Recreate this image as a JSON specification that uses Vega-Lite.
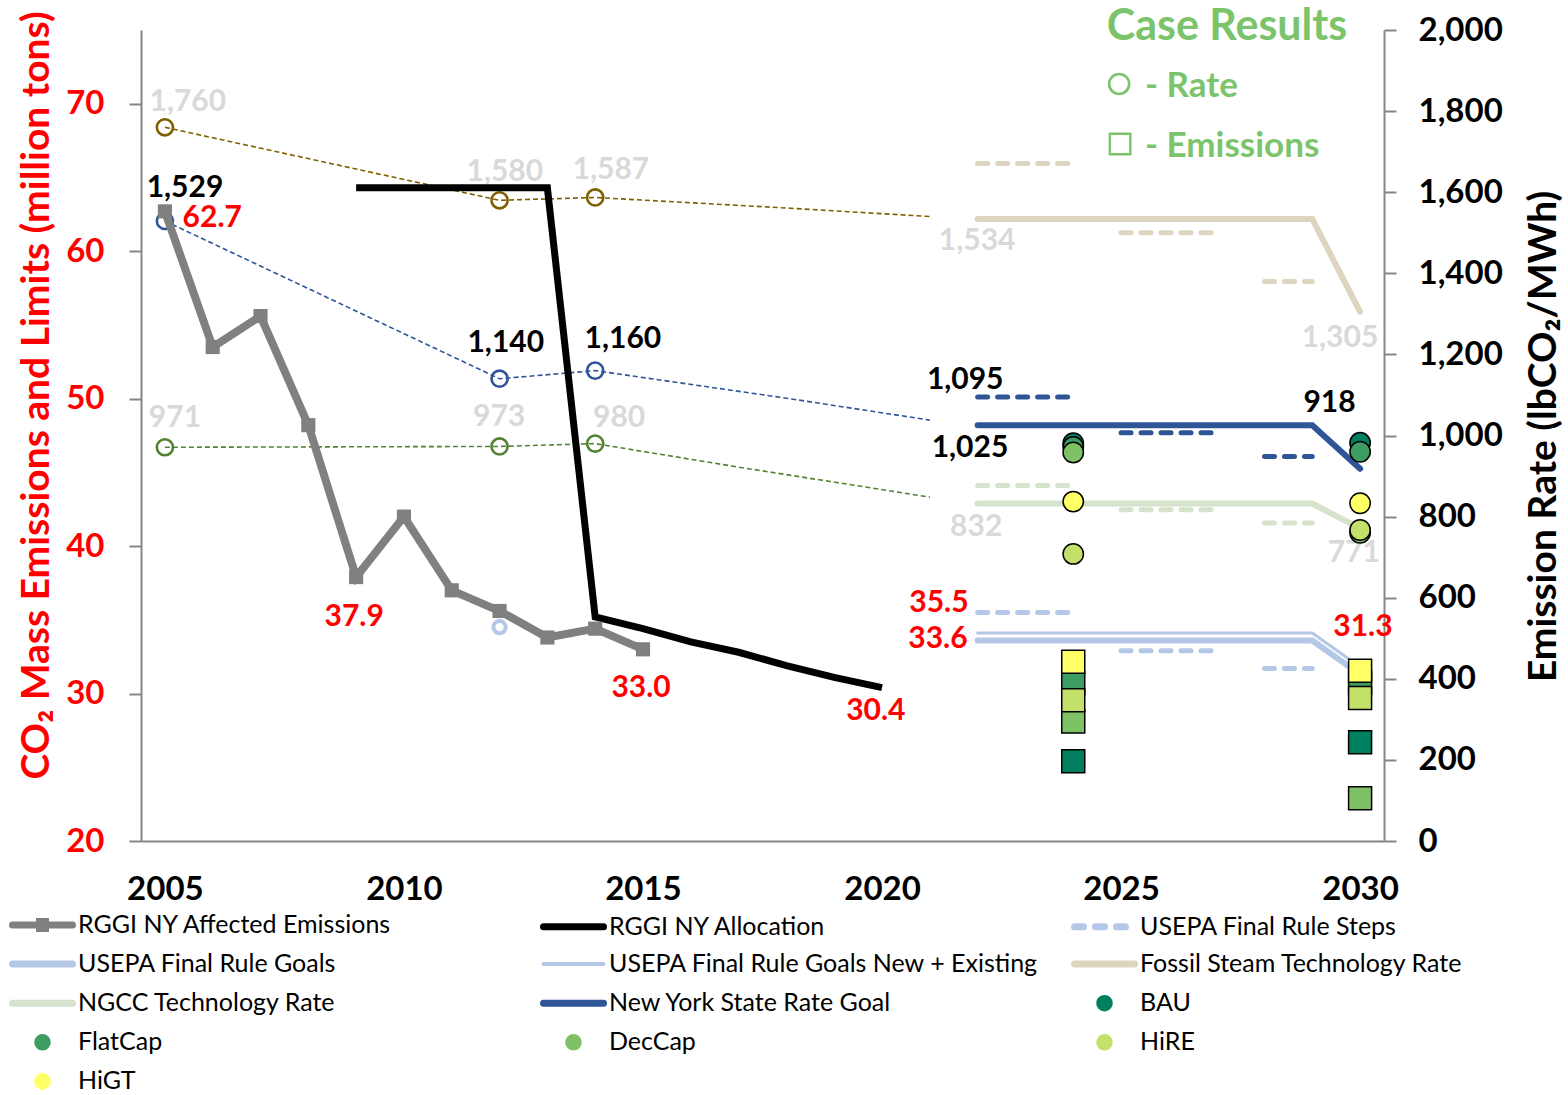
{
  "$schema": "https://vega.github.io/schema/vega-lite/v6.json",
  "width": 1243,
  "height": 811,
  "autosize": {"type": "none"},
  "padding": {"left": 141, "top": 30, "right": 184, "bottom": 254},
  "background": "white",
  "config": {
    "font": "Lato",
    "view": {"stroke": null},
    "axis": {"grid": false, "domainColor": "#868686", "domainWidth": 2, "tickColor": "#868686", "tickWidth": 2, "labelFontWeight": "bold", "labelFontSize": 33, "titleFontWeight": "bold", "titleFontSize": 39, "labelFlush": false, "labelOverlap": false}
  },
  "datasets": {
    "mass": [
      {"series": "RGGI NY Affected Emissions", "year": 2005, "value": 62.7},
      {"series": "RGGI NY Affected Emissions", "year": 2006, "value": 53.5},
      {"series": "RGGI NY Affected Emissions", "year": 2007, "value": 55.6},
      {"series": "RGGI NY Affected Emissions", "year": 2008, "value": 48.2},
      {"series": "RGGI NY Affected Emissions", "year": 2009, "value": 37.9},
      {"series": "RGGI NY Affected Emissions", "year": 2010, "value": 42.0},
      {"series": "RGGI NY Affected Emissions", "year": 2011, "value": 37.0},
      {"series": "RGGI NY Affected Emissions", "year": 2012, "value": 35.6},
      {"series": "RGGI NY Affected Emissions", "year": 2013, "value": 33.8},
      {"series": "RGGI NY Affected Emissions", "year": 2014, "value": 34.4},
      {"series": "RGGI NY Affected Emissions", "year": 2015, "value": 33.0},
      {"series": "RGGI NY Allocation", "year": 2009, "value": 64.3},
      {"series": "RGGI NY Allocation", "year": 2010, "value": 64.3},
      {"series": "RGGI NY Allocation", "year": 2011, "value": 64.3},
      {"series": "RGGI NY Allocation", "year": 2012, "value": 64.3},
      {"series": "RGGI NY Allocation", "year": 2013, "value": 64.3},
      {"series": "RGGI NY Allocation", "year": 2014, "value": 35.2},
      {"series": "RGGI NY Allocation", "year": 2015, "value": 34.4},
      {"series": "RGGI NY Allocation", "year": 2016, "value": 33.5},
      {"series": "RGGI NY Allocation", "year": 2017, "value": 32.8},
      {"series": "RGGI NY Allocation", "year": 2018, "value": 31.9},
      {"series": "RGGI NY Allocation", "year": 2019, "value": 31.1},
      {"series": "RGGI NY Allocation", "year": 2020, "value": 30.4},
      {"series": "USEPA Final Rule Goals", "year": 2022, "value": 33.6},
      {"series": "USEPA Final Rule Goals", "year": 2029, "value": 33.6},
      {"series": "USEPA Final Rule Goals", "year": 2030, "value": 31.3},
      {"series": "USEPA Final Rule Goals New + Existing", "year": 2022, "value": 34.1},
      {"series": "USEPA Final Rule Goals New + Existing", "year": 2029, "value": 34.1},
      {"series": "USEPA Final Rule Goals New + Existing", "year": 2030, "value": 31.8},
      {"series": "USEPA Final Rule Steps", "step": 1, "year": 2022, "value": 35.5},
      {"series": "USEPA Final Rule Steps", "step": 1, "year": 2024, "value": 35.5},
      {"series": "USEPA Final Rule Steps", "step": 2, "year": 2025, "value": 32.9},
      {"series": "USEPA Final Rule Steps", "step": 2, "year": 2027, "value": 32.9},
      {"series": "USEPA Final Rule Steps", "step": 3, "year": 2028, "value": 31.7},
      {"series": "USEPA Final Rule Steps", "step": 3, "year": 2029, "value": 31.7},
      {"series": "USEPA 2012 Emissions", "year": 2012, "value": 34.5}
    ],
    "massCases": [
      {"series": "BAU", "year": 2024, "value": 25.4},
      {"series": "FlatCap", "year": 2024, "value": 30.7},
      {"series": "DecCap", "year": 2024, "value": 28.1},
      {"series": "HiRE", "year": 2024, "value": 29.55},
      {"series": "HiGT", "year": 2024, "value": 32.15},
      {"series": "BAU", "year": 2030, "value": 26.7},
      {"series": "FlatCap", "year": 2030, "value": 30.75},
      {"series": "DecCap", "year": 2030, "value": 22.9},
      {"series": "HiRE", "year": 2030, "value": 29.7},
      {"series": "HiGT", "year": 2030, "value": 31.55}
    ],
    "rate": [
      {"series": "Fossil Steam Historic", "year": 2005, "value": 1760},
      {"series": "Fossil Steam Historic", "year": 2012, "value": 1580},
      {"series": "Fossil Steam Historic", "year": 2014, "value": 1587},
      {"series": "Fossil Steam Historic", "year": 2018, "value": 1561},
      {"series": "Fossil Steam Historic", "year": 2021, "value": 1540},
      {"series": "NY Rate Historic", "year": 2005, "value": 1529},
      {"series": "NY Rate Historic", "year": 2012, "value": 1140},
      {"series": "NY Rate Historic", "year": 2014, "value": 1160},
      {"series": "NY Rate Historic", "year": 2018, "value": 1092},
      {"series": "NY Rate Historic", "year": 2021, "value": 1038},
      {"series": "NGCC Historic", "year": 2005, "value": 971},
      {"series": "NGCC Historic", "year": 2012, "value": 973},
      {"series": "NGCC Historic", "year": 2014, "value": 980},
      {"series": "NGCC Historic", "year": 2017, "value": 922},
      {"series": "NGCC Historic", "year": 2021, "value": 848},
      {"series": "Fossil Steam Technology Rate", "year": 2022, "value": 1534},
      {"series": "Fossil Steam Technology Rate", "year": 2029, "value": 1534},
      {"series": "Fossil Steam Technology Rate", "year": 2030, "value": 1305},
      {"series": "NGCC Technology Rate", "year": 2022, "value": 832},
      {"series": "NGCC Technology Rate", "year": 2029, "value": 832},
      {"series": "NGCC Technology Rate", "year": 2030, "value": 771},
      {"series": "New York State Rate Goal", "year": 2022, "value": 1025},
      {"series": "New York State Rate Goal", "year": 2029, "value": 1025},
      {"series": "New York State Rate Goal", "year": 2030, "value": 918},
      {"series": "Fossil Steam Steps", "step": 1, "year": 2022, "value": 1671},
      {"series": "Fossil Steam Steps", "step": 1, "year": 2024, "value": 1671},
      {"series": "Fossil Steam Steps", "step": 2, "year": 2025, "value": 1500},
      {"series": "Fossil Steam Steps", "step": 2, "year": 2027, "value": 1500},
      {"series": "Fossil Steam Steps", "step": 3, "year": 2028, "value": 1380},
      {"series": "Fossil Steam Steps", "step": 3, "year": 2029, "value": 1380},
      {"series": "NGCC Steps", "step": 1, "year": 2022, "value": 877},
      {"series": "NGCC Steps", "step": 1, "year": 2024, "value": 877},
      {"series": "NGCC Steps", "step": 2, "year": 2025, "value": 817},
      {"series": "NGCC Steps", "step": 2, "year": 2027, "value": 817},
      {"series": "NGCC Steps", "step": 3, "year": 2028, "value": 784},
      {"series": "NGCC Steps", "step": 3, "year": 2029, "value": 784},
      {"series": "New York State Rate Steps", "step": 1, "year": 2022, "value": 1095},
      {"series": "New York State Rate Steps", "step": 1, "year": 2024, "value": 1095},
      {"series": "New York State Rate Steps", "step": 2, "year": 2025, "value": 1007},
      {"series": "New York State Rate Steps", "step": 2, "year": 2027, "value": 1007},
      {"series": "New York State Rate Steps", "step": 3, "year": 2028, "value": 948},
      {"series": "New York State Rate Steps", "step": 3, "year": 2029, "value": 948}
    ],
    "rateCases": [
      {"series": "BAU", "year": 2024, "value": 981},
      {"series": "FlatCap", "year": 2024, "value": 972},
      {"series": "DecCap", "year": 2024, "value": 958},
      {"series": "HiRE", "year": 2024, "value": 708},
      {"series": "HiGT", "year": 2024, "value": 837},
      {"series": "BAU", "year": 2030, "value": 982},
      {"series": "FlatCap", "year": 2030, "value": 960},
      {"series": "DecCap", "year": 2030, "value": 760},
      {"series": "HiRE", "year": 2030, "value": 767},
      {"series": "HiGT", "year": 2030, "value": 833}
    ],
    "rateLabelsGray": [
      {"text": "1,760", "year": 2005.48, "value": 1822},
      {"text": "1,580", "year": 2012.11, "value": 1650},
      {"text": "1,587", "year": 2014.33, "value": 1655},
      {"text": "971", "year": 2005.21, "value": 1043},
      {"text": "973", "year": 2011.99, "value": 1046},
      {"text": "980", "year": 2014.5, "value": 1043},
      {"text": "1,534", "year": 2021.99, "value": 1480},
      {"text": "832", "year": 2021.97, "value": 774},
      {"text": "1,305", "year": 2029.58, "value": 1240},
      {"text": "771", "year": 2029.87, "value": 710}
    ],
    "rateLabelsBlack": [
      {"text": "1,529", "year": 2005.42, "value": 1610},
      {"text": "1,140", "year": 2012.13, "value": 1228},
      {"text": "1,160", "year": 2014.58, "value": 1238},
      {"text": "1,095", "year": 2021.74, "value": 1137},
      {"text": "1,025", "year": 2021.84, "value": 969},
      {"text": "918", "year": 2029.36, "value": 1080}
    ],
    "massLabels": [
      {"text": "62.7", "year": 2005.99, "value": 62.25},
      {"text": "37.9", "year": 2008.96, "value": 35.19},
      {"text": "33.0", "year": 2014.96, "value": 30.37},
      {"text": "30.4", "year": 2019.87, "value": 28.81},
      {"text": "35.5", "year": 2021.19, "value": 36.14},
      {"text": "33.6", "year": 2021.17, "value": 33.7},
      {"text": "31.3", "year": 2030.06, "value": 34.51}
    ],
    "caseTitle": [
      {"text": "Case Results", "year": 2024.7, "value": 1975}
    ],
    "caseNotes": [
      {"text": "- Rate", "year": 2025.5, "value": 1835},
      {"text": "- Emissions", "year": 2025.5, "value": 1687}
    ],
    "caseKeyRate": [
      {"key": "Rate", "year": 2024.96, "value": 1867}
    ],
    "caseKeyEmissions": [
      {"key": "Emissions", "year": 2024.98, "value": 1719}
    ]
  },
  "encoding": {
    "x": {
      "field": "year", "type": "quantitative",
      "scale": {"domain": [2004.5, 2030.5], "nice": false, "zero": false},
      "axis": {"values": [2005, 2010, 2015, 2020, 2025, 2030], "format": "d", "ticks": false, "labelPadding": 32, "labelColor": "black", "title": null}
    }
  },
  "layer": [
    {
      "encoding": {
        "y": {
          "field": "value", "type": "quantitative",
          "scale": {"domain": [0, 2000], "nice": false, "zero": false},
          "axis": {"orient": "right", "values": [0, 200, 400, 600, 800, 1000, 1200, 1400, 1600, 1800, 2000], "format": ",.0f", "tickSize": 12, "labelPadding": 22, "labelColor": "black", "labelAlign": "left", "labelBaseline": "middle", "title": "Emission Rate (lbCO₂/MWh)", "titleColor": "black", "titleAngle": -90, "titleX": 171, "titleY": 406, "titleAlign": "center", "titleBaseline": "alphabetic"}
        }
      },
      "layer": [
        {
          "data": {"name": "rateLabelsGray"},
          "mark": {"type": "text", "font": "Lato", "fontWeight": "bold", "fontSize": 30, "color": "#D9D9D9", "align": "center", "baseline": "middle"},
          "encoding": {"text": {"field": "text"}}
        },
        {
          "data": {"name": "rateLabelsBlack"},
          "mark": {"type": "text", "font": "Lato", "fontWeight": "bold", "fontSize": 30, "color": "black", "align": "center", "baseline": "middle"},
          "encoding": {"text": {"field": "text"}}
        },
        {
          "data": {"name": "caseTitle"},
          "mark": {"type": "text", "font": "Lato", "fontWeight": "bold", "fontSize": 43, "color": "#7CC46C", "align": "left", "baseline": "alphabetic"},
          "encoding": {"text": {"field": "text"}}
        },
        {
          "data": {"name": "caseNotes"},
          "mark": {"type": "text", "font": "Lato", "fontWeight": "bold", "fontSize": 35, "color": "#7CC46C", "align": "left", "baseline": "alphabetic"},
          "encoding": {"text": {"field": "text"}}
        },
        {
          "data": {"name": "caseKeyRate"},
          "mark": {"type": "point", "shape": "circle", "filled": false, "size": 400, "stroke": "#7CC46C", "strokeWidth": 2.6, "opacity": 1},
          "encoding": {}
        },
        {
          "data": {"name": "caseKeyEmissions"},
          "mark": {"type": "point", "shape": "square", "filled": false, "size": 420, "stroke": "#7CC46C", "strokeWidth": 2.4, "opacity": 1},
          "encoding": {}
        },
        {
          "data": {"name": "rate"},
          "transform": [{"filter": {"field": "series", "oneOf": ["Fossil Steam Historic", "NY Rate Historic", "NGCC Historic"]}}],
          "mark": {"type": "line", "strokeWidth": 1.6, "strokeDash": [5, 3]},
          "encoding": {
            "stroke": {"field": "series", "type": "nominal", "legend": null,
              "scale": {"domain": ["Fossil Steam Historic", "NY Rate Historic", "NGCC Historic", "Fossil Steam Steps", "NGCC Steps", "New York State Rate Steps"], "range": ["#7F6000", "#2F5597", "#548235", "#DDD5BF", "#D5E2CC", "#2F5597"]}}
          }
        },
        {
          "data": {"name": "rate"},
          "transform": [{"filter": {"field": "series", "oneOf": ["Fossil Steam Historic", "NY Rate Historic", "NGCC Historic"]}}, {"filter": "datum.year <= 2014"}],
          "mark": {"type": "point", "shape": "circle", "filled": false, "size": 260, "strokeWidth": 2.6, "opacity": 1},
          "encoding": {
            "stroke": {"field": "series", "type": "nominal", "legend": null,
              "scale": {"domain": ["Fossil Steam Historic", "NY Rate Historic", "NGCC Historic", "Fossil Steam Steps", "NGCC Steps", "New York State Rate Steps"], "range": ["#7F6000", "#2F5597", "#548235", "#DDD5BF", "#D5E2CC", "#2F5597"]}}
          }
        },
        {
          "data": {"name": "rate"},
          "transform": [{"filter": {"field": "series", "oneOf": ["Fossil Steam Steps", "NGCC Steps", "New York State Rate Steps"]}}],
          "mark": {"type": "line", "strokeWidth": 5, "strokeDash": [10, 10], "strokeCap": "round"},
          "encoding": {
            "detail": {"field": "step", "type": "nominal"},
            "stroke": {"field": "series", "type": "nominal", "legend": null,
              "scale": {"domain": ["Fossil Steam Historic", "NY Rate Historic", "NGCC Historic", "Fossil Steam Steps", "NGCC Steps", "New York State Rate Steps"], "range": ["#7F6000", "#2F5597", "#548235", "#DDD5BF", "#D5E2CC", "#2F5597"]}}
          }
        },
        {
          "data": {"name": "rate"},
          "transform": [{"filter": {"field": "series", "oneOf": ["Fossil Steam Technology Rate", "NGCC Technology Rate", "New York State Rate Goal"]}}],
          "mark": {"type": "line", "strokeWidth": 6, "strokeCap": "round"},
          "encoding": {
            "color": {"field": "series", "type": "nominal",
              "scale": {"domain": ["RGGI NY Affected Emissions", "RGGI NY Allocation", "USEPA Final Rule Steps", "USEPA Final Rule Goals", "USEPA Final Rule Goals New + Existing", "Fossil Steam Technology Rate", "NGCC Technology Rate", "New York State Rate Goal", "BAU", "FlatCap", "DecCap", "HiRE", "HiGT"], "range": ["#808080", "#000000", "#B4C7E7", "#B4C7E7", "#B4C7E7", "#DDD5BF", "#D5E2CC", "#2F5597", "#00805F", "#3D9D62", "#7FC266", "#C3E06B", "#FFFF66"]}}
          }
        }
      ]
    },
    {
      "encoding": {
        "y": {
          "field": "value", "type": "quantitative",
          "scale": {"domain": [20, 75], "nice": false, "zero": false},
          "axis": {"orient": "left", "values": [20, 30, 40, 50, 60, 70], "tickSize": 12, "labelPadding": 25, "labelColor": "#FF0000", "labelAlign": "right", "labelBaseline": "middle", "title": "CO₂ Mass Emissions and Limits (million tons)", "titleColor": "#FF0000", "titleAngle": -90, "titleX": -93, "titleY": 365, "titleAlign": "center", "titleBaseline": "alphabetic"}
        }
      },
      "layer": [
        {
          "data": {"name": "mass"},
          "transform": [{"filter": "datum.series === 'USEPA Final Rule Steps'"}],
          "mark": {"type": "line", "strokeWidth": 5, "strokeDash": [10, 10], "strokeCap": "round"},
          "encoding": {
            "detail": {"field": "step", "type": "nominal"},
            "color": {"field": "series", "type": "nominal",
              "scale": {"domain": ["RGGI NY Affected Emissions", "RGGI NY Allocation", "USEPA Final Rule Steps", "USEPA Final Rule Goals", "USEPA Final Rule Goals New + Existing", "Fossil Steam Technology Rate", "NGCC Technology Rate", "New York State Rate Goal", "BAU", "FlatCap", "DecCap", "HiRE", "HiGT"], "range": ["#808080", "#000000", "#B4C7E7", "#B4C7E7", "#B4C7E7", "#DDD5BF", "#D5E2CC", "#2F5597", "#00805F", "#3D9D62", "#7FC266", "#C3E06B", "#FFFF66"]},
              "legend": {
                "orient": "none", "legendX": -111, "legendY": 882.5, "columns": 3, "direction": "horizontal", "title": null,
                "gridAlign": "all", "columnPadding": 21, "rowPadding": 7.1, "padding": 0,
                "symbolSize": 400, "symbolStrokeWidth": 7, "symbolLimit": 20, "symbolType": "M-3,0H3",
                "labelFont": "Lato", "labelFontSize": 25, "labelFontWeight": "normal", "labelColor": "black", "labelOffset": 23, "labelLimit": 800,
                "encode": {
                  "symbols": {
                    "update": {
                      "shape": [
                        {"test": "indexof(['BAU','FlatCap','DecCap','HiRE','HiGT'], datum.value) >= 0", "value": "M-0.75,0A0.75,0.75 0 1 1 0.75,0A0.75,0.75 0 1 1 -0.75,0Z"},
                        {"test": "datum.value === 'RGGI NY Affected Emissions'", "value": "M-3,0H3M-0.3,-0.35H0.3V0.35H-0.3Z"},
                        {"value": "M-3,0H3"}
                      ],
                      "fill": [
                        {"test": "indexof(['BAU','FlatCap','DecCap','HiRE','HiGT','RGGI NY Affected Emissions'], datum.value) >= 0", "scale": "color", "field": "value"},
                        {"value": "transparent"}
                      ],
                      "stroke": [
                        {"test": "indexof(['BAU','FlatCap','DecCap','HiRE','HiGT'], datum.value) >= 0", "value": "black"},
                        {"scale": "color", "field": "value"}
                      ],
                      "strokeWidth": {"signal": "indexof(['BAU','FlatCap','DecCap','HiRE','HiGT'], datum.value) >= 0 ? 1.6 : (datum.value === 'USEPA Final Rule Goals New + Existing' ? 4 : 7)"},
                      "strokeDash": [
                        {"test": "datum.value === 'USEPA Final Rule Steps'", "value": [9, 12]},
                        {"value": []}
                      ],
                      "strokeCap": {"value": "round"},
                      "opacity": {"value": 1}
                    }
                  }
                }
              }
            }
          }
        },
        {
          "data": {"name": "mass"},
          "transform": [{"filter": "datum.series === 'USEPA Final Rule Goals'"}],
          "mark": {"type": "line", "strokeWidth": 6, "strokeCap": "round"},
          "encoding": {
            "color": {"field": "series", "type": "nominal",
              "scale": {"domain": ["RGGI NY Affected Emissions", "RGGI NY Allocation", "USEPA Final Rule Steps", "USEPA Final Rule Goals", "USEPA Final Rule Goals New + Existing", "Fossil Steam Technology Rate", "NGCC Technology Rate", "New York State Rate Goal", "BAU", "FlatCap", "DecCap", "HiRE", "HiGT"], "range": ["#808080", "#000000", "#B4C7E7", "#B4C7E7", "#B4C7E7", "#DDD5BF", "#D5E2CC", "#2F5597", "#00805F", "#3D9D62", "#7FC266", "#C3E06B", "#FFFF66"]}}
          }
        },
        {
          "data": {"name": "mass"},
          "transform": [{"filter": "datum.series === 'USEPA Final Rule Goals New + Existing'"}],
          "mark": {"type": "line", "strokeWidth": 3, "strokeCap": "round"},
          "encoding": {
            "color": {"field": "series", "type": "nominal",
              "scale": {"domain": ["RGGI NY Affected Emissions", "RGGI NY Allocation", "USEPA Final Rule Steps", "USEPA Final Rule Goals", "USEPA Final Rule Goals New + Existing", "Fossil Steam Technology Rate", "NGCC Technology Rate", "New York State Rate Goal", "BAU", "FlatCap", "DecCap", "HiRE", "HiGT"], "range": ["#808080", "#000000", "#B4C7E7", "#B4C7E7", "#B4C7E7", "#DDD5BF", "#D5E2CC", "#2F5597", "#00805F", "#3D9D62", "#7FC266", "#C3E06B", "#FFFF66"]}}
          }
        },
        {
          "data": {"name": "mass"},
          "transform": [{"filter": "datum.series === 'RGGI NY Allocation'"}],
          "mark": {"type": "line", "strokeWidth": 7},
          "encoding": {
            "color": {"field": "series", "type": "nominal",
              "scale": {"domain": ["RGGI NY Affected Emissions", "RGGI NY Allocation", "USEPA Final Rule Steps", "USEPA Final Rule Goals", "USEPA Final Rule Goals New + Existing", "Fossil Steam Technology Rate", "NGCC Technology Rate", "New York State Rate Goal", "BAU", "FlatCap", "DecCap", "HiRE", "HiGT"], "range": ["#808080", "#000000", "#B4C7E7", "#B4C7E7", "#B4C7E7", "#DDD5BF", "#D5E2CC", "#2F5597", "#00805F", "#3D9D62", "#7FC266", "#C3E06B", "#FFFF66"]}}
          }
        },
        {
          "data": {"name": "mass"},
          "transform": [{"filter": "datum.series === 'RGGI NY Affected Emissions'"}],
          "mark": {"type": "line", "strokeWidth": 8, "point": {"shape": "square", "size": 200, "filled": true, "opacity": 1}},
          "encoding": {
            "color": {"field": "series", "type": "nominal",
              "scale": {"domain": ["RGGI NY Affected Emissions", "RGGI NY Allocation", "USEPA Final Rule Steps", "USEPA Final Rule Goals", "USEPA Final Rule Goals New + Existing", "Fossil Steam Technology Rate", "NGCC Technology Rate", "New York State Rate Goal", "BAU", "FlatCap", "DecCap", "HiRE", "HiGT"], "range": ["#808080", "#000000", "#B4C7E7", "#B4C7E7", "#B4C7E7", "#DDD5BF", "#D5E2CC", "#2F5597", "#00805F", "#3D9D62", "#7FC266", "#C3E06B", "#FFFF66"]}}
          }
        },
        {
          "data": {"name": "mass"},
          "transform": [{"filter": "datum.series === 'USEPA 2012 Emissions'"}],
          "mark": {"type": "point", "shape": "circle", "filled": false, "size": 150, "stroke": "#B4C7E7", "strokeWidth": 4, "opacity": 1},
          "encoding": {}
        },
        {
          "data": {"name": "massCases"},
          "mark": {"type": "point", "shape": "square", "filled": true, "size": 529, "stroke": "black", "strokeWidth": 1.5, "opacity": 1},
          "encoding": {
            "color": {"field": "series", "type": "nominal",
              "scale": {"domain": ["RGGI NY Affected Emissions", "RGGI NY Allocation", "USEPA Final Rule Steps", "USEPA Final Rule Goals", "USEPA Final Rule Goals New + Existing", "Fossil Steam Technology Rate", "NGCC Technology Rate", "New York State Rate Goal", "BAU", "FlatCap", "DecCap", "HiRE", "HiGT"], "range": ["#808080", "#000000", "#B4C7E7", "#B4C7E7", "#B4C7E7", "#DDD5BF", "#D5E2CC", "#2F5597", "#00805F", "#3D9D62", "#7FC266", "#C3E06B", "#FFFF66"]}}
          }
        },
        {
          "data": {"name": "massLabels"},
          "mark": {"type": "text", "font": "Lato", "fontWeight": "bold", "fontSize": 30, "color": "#FF0000", "align": "center", "baseline": "middle"},
          "encoding": {"text": {"field": "text"}}
        }
      ]
    },
    {
      "encoding": {
        "y": {
          "field": "value", "type": "quantitative",
          "scale": {"domain": [0, 2000], "nice": false, "zero": false},
          "axis": null
        }
      },
      "layer": [
        {
          "data": {"name": "rateCases"},
          "mark": {"type": "point", "shape": "circle", "filled": true, "size": 415, "stroke": "black", "strokeWidth": 1.5, "opacity": 1},
          "encoding": {
            "color": {"field": "series", "type": "nominal",
              "scale": {"domain": ["RGGI NY Affected Emissions", "RGGI NY Allocation", "USEPA Final Rule Steps", "USEPA Final Rule Goals", "USEPA Final Rule Goals New + Existing", "Fossil Steam Technology Rate", "NGCC Technology Rate", "New York State Rate Goal", "BAU", "FlatCap", "DecCap", "HiRE", "HiGT"], "range": ["#808080", "#000000", "#B4C7E7", "#B4C7E7", "#B4C7E7", "#DDD5BF", "#D5E2CC", "#2F5597", "#00805F", "#3D9D62", "#7FC266", "#C3E06B", "#FFFF66"]}}
          }
        }
      ]
    }
  ],
  "resolve": {"scale": {"y": "independent"}}
}
